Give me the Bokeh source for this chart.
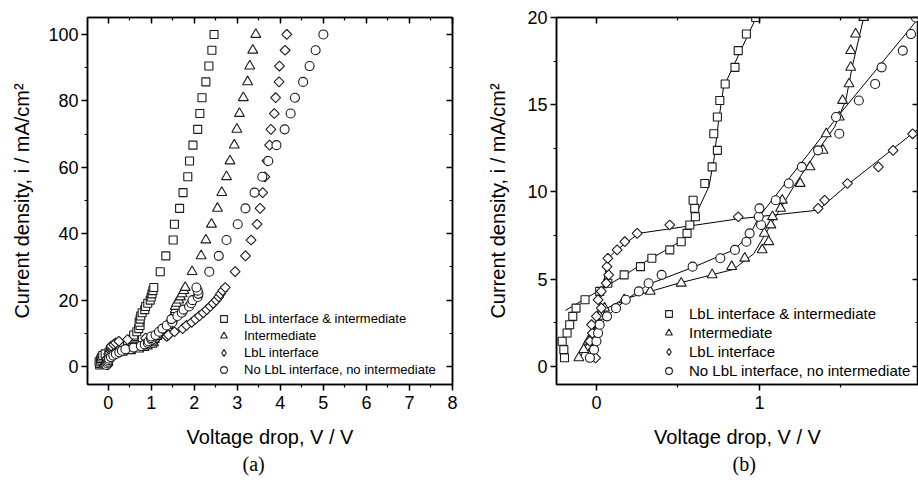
import numpy as np
from bokeh.plotting import figure
from bokeh.models import (Range1d, LinearAxis, SingleIntervalTicker, CustomJSTickFormatter,
                          Legend, LegendItem, Title, ColumnDataSource)
from bokeh.layouts import row
from bokeh.embed import file_html
from bokeh.resources import INLINE

# ---------------- data ----------------
current_density = [0.48, 0.95, 1.43, 1.90, 2.38, 2.86, 3.33, 3.81, 4.29, 4.76, 5.24, 5.71, 6.19, 6.67, 7.14,
                   7.62, 8.10, 8.57, 9.05, 9.52,
                   10.48, 11.43, 12.38, 13.33, 14.29, 15.24, 16.19, 17.14, 18.10, 19.05, 20.00, 20.95, 21.90,
                   22.86, 23.81,
                   28.57, 33.33, 38.10, 42.86, 47.62, 52.38, 57.14, 61.90, 66.67, 71.43, 76.19, 80.95, 85.71,
                   90.48, 95.24, 100.0]

v_lbl_int = [-0.196, -0.20, -0.21, -0.18, -0.164, -0.145, -0.125, -0.07, 0.02, 0.07, 0.17, 0.27, 0.34, 0.45,
             0.52, 0.556, 0.573, 0.607, 0.603, 0.593,
             0.665, 0.71, 0.742, 0.72, 0.742, 0.757, 0.79, 0.85, 0.87, 0.92, 0.977, 1.00, 1.02, 1.04, 1.06,
             1.21, 1.34, 1.51, 1.54, 1.66, 1.74, 1.85, 1.89, 1.97, 2.08, 2.13, 2.18, 2.27, 2.34, 2.41, 2.46]

v_int = [-0.108, -0.078, -0.05, -0.02, 0.005, 0.02, 0.05, 0.17, 0.33, 0.52, 0.71, 0.83, 0.91, 1.017, 1.057,
         1.03, 1.07, 1.08, 1.13, 1.14,
         1.25, 1.31, 1.39, 1.41, 1.49, 1.51, 1.55, 1.56, 1.56, 1.59, 1.64, 1.68, 1.72, 1.76, 1.79,
         1.95, 2.16, 2.27, 2.40, 2.54, 2.64, 2.75, 2.83, 2.93, 2.99, 3.05, 3.14, 3.24, 3.29, 3.36, 3.43]

v_lbl = [-0.005, -0.02, -0.04, -0.025, -0.03, 0.0, 0.03, 0.01, 0.03, 0.06, 0.075, 0.065, 0.07, 0.127, 0.174,
         0.25, 0.45, 0.87, 1.36, 1.40,
         1.54, 1.73, 1.82, 1.94, 2.03, 2.12, 2.21, 2.29, 2.37, 2.44, 2.51, 2.57, 2.61, 2.66, 2.72,
         2.95, 3.19, 3.32, 3.46, 3.53, 3.59, 3.64, 3.69, 3.75, 3.78, 3.86, 3.89, 3.97, 3.98, 4.11, 4.15]

v_none = [-0.04, -0.015, 0.0, 0.01, 0.02, 0.065, 0.12, 0.18, 0.26, 0.32, 0.40, 0.59, 0.76, 0.85, 0.92,
          0.94, 1.01, 0.996, 1.0, 1.10,
          1.18, 1.26, 1.36, 1.49, 1.47, 1.61, 1.71, 1.75, 1.88, 1.93, 1.96, 2.08, 2.10, 2.08, 2.05,
          2.35, 2.57, 2.75, 3.01, 3.19, 3.40, 3.58, 3.72, 3.91, 4.10, 4.24, 4.34, 4.53, 4.68, 4.82, 5.00]

# fitted lines shown in panel (b)
fit_lbl_int_v = [-0.19, 0.0, 0.17, 0.31, 0.43, 0.515, 0.556, 0.63, 0.69, 0.72, 0.75, 0.78, 0.88, 0.98]
fit_lbl_int_i = [3.2, 4.25, 5.2, 6.05, 6.68, 7.17, 7.6, 9.1, 10.3, 11.8, 14.1, 16.0, 18.0, 20.0]
fit_int_v = [-0.10, -0.02, 0.06, 0.17, 0.5, 0.84, 0.965, 1.11, 1.21, 1.33, 1.46, 1.53, 1.57, 1.64]
fit_int_i = [0.5, 2.0, 3.3, 3.85, 4.75, 5.55, 6.45, 8.75, 10.3, 12.0, 13.7, 15.25, 17.2, 20.0]
fit_lbl_v = [-0.03, 0.0, 0.04, 0.07, 0.13, 0.26, 0.87, 1.36, 1.54, 2.0]
fit_lbl_i = [1.0, 2.8, 4.5, 6.2, 6.7, 7.62, 8.45, 8.95, 10.4, 13.8]
fit_none_v = [-0.04, 0.0, 0.07, 0.18, 0.32, 0.6, 0.85, 0.95, 1.0, 1.47, 1.98]
fit_none_i = [0.5, 2.0, 2.9, 3.8, 4.7, 5.7, 6.7, 7.7, 8.6, 14.2, 20.0]

series_labels = ["LbL interface & intermediate", "Intermediate", "LbL interface",
                 "No LbL interface, no intermediate"]

# ---------------- styling ----------------
FONT = "Liberation Sans"
INK = "#1a1a1a"
# (data marker, size, angle, legend marker)
markers = [("square", 8, 0.0, "square"), ("triangle", 10, 0.0, "triangle"),
           ("square", 7, np.pi / 4, "diamond"), ("circle", 9, 0.0, "circle")]
volts = [v_lbl_int, v_int, v_lbl, v_none]
fits = [(fit_lbl_int_v, fit_lbl_int_i), (fit_int_v, fit_int_i), (fit_lbl_v, fit_lbl_i), (fit_none_v, fit_none_i)]


def style_axes(p, xint, yint, tick_font, title_standoff_x, title_standoff_y):
    for ax, interval in ((p.xaxis[0], xint), (p.yaxis[0], yint)):
        ax.ticker = SingleIntervalTicker(interval=interval, num_minor_ticks=2)
        ax.major_tick_out = 6
        ax.major_tick_in = 0
        ax.minor_tick_out = 3
        ax.minor_tick_in = 0
        ax.axis_line_width = 1.5
        ax.major_tick_line_width = 1.5
        ax.minor_tick_line_width = 1.2
        ax.axis_line_color = "black"
        ax.major_label_text_font = FONT
        ax.major_label_text_font_size = tick_font
        ax.major_label_text_color = "black"
        ax.axis_label_text_font = FONT
        ax.axis_label_text_font_size = "20px"
        ax.axis_label_text_font_style = "normal"
        ax.axis_label_text_color = "black"
    p.xaxis[0].major_label_standoff = 5
    p.yaxis[0].major_label_standoff = 3
    p.xaxis[0].axis_label_standoff = title_standoff_x
    p.yaxis[0].axis_label_standoff = title_standoff_y
    # mirrored axes: top and right with inward ticks, no labels
    blank = CustomJSTickFormatter(code="return ''")
    top = LinearAxis(ticker=SingleIntervalTicker(interval=xint, num_minor_ticks=2), formatter=blank,
                     major_tick_in=6, major_tick_out=0, minor_tick_in=3, minor_tick_out=0,
                     major_label_text_font_size="0px", major_label_standoff=0,
                     axis_line_width=1.5, major_tick_line_width=1.5, minor_tick_line_width=1.2)
    right = LinearAxis(ticker=SingleIntervalTicker(interval=yint, num_minor_ticks=2), formatter=blank,
                       major_tick_in=6, major_tick_out=0, minor_tick_in=3, minor_tick_out=0,
                       major_label_text_font_size="0px", major_label_standoff=0,
                       axis_line_width=1.5, major_tick_line_width=1.5, minor_tick_line_width=1.2)
    p.add_layout(top, "above")
    p.add_layout(right, "right")
    p.xgrid.visible = False
    p.ygrid.visible = False
    p.outline_line_color = "black"
    p.outline_line_width = 1.5


def add_series(p):
    legend_renderers = []
    for (mk, sz, ang, lmk), vv in zip(markers, volts):
        src = ColumnDataSource(dict(v=vv, i=current_density))
        r = p.scatter("v", "i", source=src, marker=mk, size=sz, angle=ang, line_color=INK,
                      line_width=1.1, fill_color="white")
        if lmk != mk:
            # legend-only glyph (legend markers are never rotated); NaN point is not drawn
            r = p.scatter(x=[float("nan")], y=[float("nan")], marker=lmk, size=sz, line_color=INK,
                          line_width=1.1, fill_color="white")
        legend_renderers.append(r)
    return legend_renderers


def make_legend(p, renderers, x, y, font, spacing, standoff):
    items = [LegendItem(label=lab, renderers=[r]) for lab, r in zip(series_labels, renderers)]
    leg = Legend(items=items, location=(x, y), orientation="vertical",
                 label_text_font=FONT, label_text_font_size=font, label_text_color="black",
                 glyph_width=17, glyph_height=17, label_height=14, label_width=10,
                 spacing=spacing, padding=0, margin=0, label_standoff=standoff,
                 border_line_alpha=0, background_fill_alpha=0)
    p.add_layout(leg, "center")


# ---------------- panel (a) ----------------
pa = figure(width=468, height=478, output_backend="svg", toolbar_location=None,
            x_range=Range1d(-0.48, 8.0), y_range=Range1d(-5.4, 105.1),
            min_border_left=87, min_border_right=16, min_border_top=17, min_border_bottom=93,
            x_axis_label="Voltage drop, V / V", y_axis_label="Current density, i / mA/cm\u00b2")
style_axes(pa, 1, 20, "18px", 14, 12)
ra = add_series(pa)
make_legend(pa, ra, 128, 6, "13px", 0, 12)
pa.add_layout(Title(text="(a)", align="left", text_font="Liberation Serif", text_font_size="20px",
                    text_font_style="normal", text_color="black", offset=155, standoff=0), "below")

# ---------------- panel (b) ----------------
pb = figure(width=450, height=478, output_backend="svg", toolbar_location=None,
            x_range=Range1d(-0.245, 1.976), y_range=Range1d(-1.05, 20.0),
            min_border_left=88, min_border_right=0, min_border_top=17, min_border_bottom=94,
            x_axis_label="Voltage drop, V / V", y_axis_label="Current density, i / mA/cm\u00b2")
style_axes(pb, 1, 5, "18px", 14, 15)
for fv, fi in fits:
    pb.line(fv, fi, line_color="black", line_width=1)
rb = add_series(pb)
make_legend(pb, rb, 104, 5, "15px", 2, 12)
pb.add_layout(Title(text="(b)", align="left", text_font="Liberation Serif", text_font_size="20px",
                    text_font_style="normal", text_color="black", offset=176, standoff=0), "below")

layout = row(pa, pb)
open("out.html", "w").write(file_html(layout, INLINE))
